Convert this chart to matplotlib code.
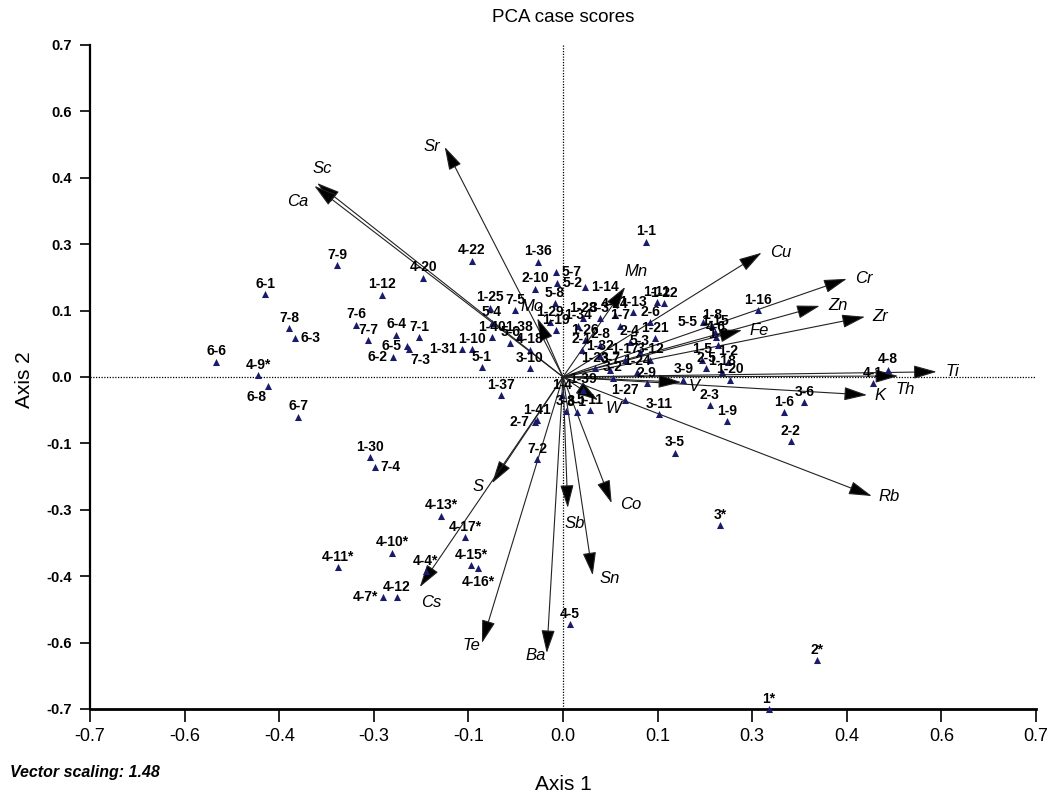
"""PCA case scores biplot (MVSP style) redrawn with matplotlib."""

import matplotlib
matplotlib.use("Agg")
import matplotlib.pyplot as plt
import numpy as np
from matplotlib import font_manager

# --- case scores (Axis 1, Axis 2) ---
case_labels = [
    "1-1", "1-36", "5-7", "5-2", "2-10", "1-14", "4-22", "4-20", "7-9", "6-1",
    "1-12", "7-8", "6-3", "7-6", "7-7", "6-4", "7-1", "6-5", "7-3", "6-2",
    "1-31", "1-10", "6-6", "4-9*", "6-8", "6-7", "1-30", "7-4", "7-2", "4-13*",
    "4-17*", "4-10*", "4-11*", "4-4*", "4-15*", "4-16*", "4-7*", "4-12", "4-5", "3-11",
    "1-9", "1-6", "3-6", "2-2", "3-5", "3*", "2*", "1*", "2-3", "1-16",
    "4-8", "4-1", "5-5", "1-8", "1-15", "4-6", "1-3", "1-5", "2-5", "1-2",
    "1-18", "1-20", "3-9", "1-27", "1-25", "7-5", "5-4", "1-40", "1-38", "5-6",
    "5-8", "1-29", "4-18", "3-10", "5-1", "1-37", "1-4", "1-39", "1-41", "2-7",
    "3-8", "3-1", "5-11", "1-28", "3-3", "4-24", "1-13", "1-11", "1-22", "1-34",
    "1-7", "2-6", "1-19", "1-26", "2-8", "1-21", "2-1", "1-32", "2-4", "5-3",
    "1-17", "3-12", "1-23", "3-7", "3-2", "1-24", "2-9",
]
case_x = [
    0.123, -0.037, -0.010, -0.009, -0.041, 0.033, -0.135, -0.207, -0.334, -0.441,
    -0.268, -0.405, -0.396, -0.306, -0.288, -0.247, -0.213, -0.231, -0.228, -0.251,
    -0.149, -0.135, -0.513, -0.451, -0.436, -0.392, -0.286, -0.278, -0.038, -0.180,
    -0.145, -0.253, -0.333, -0.203, -0.136, -0.126, -0.266, -0.246, 0.010, 0.142,
    0.243, 0.327, 0.357, 0.337, 0.166, 0.232, 0.376, 0.305, 0.217, 0.288,
    0.481, 0.459, 0.207, 0.220, 0.225, 0.226, 0.229, 0.206, 0.212, 0.244,
    0.235, 0.247, 0.178, 0.092, -0.108, -0.071, -0.105, -0.105, -0.065, -0.078,
    -0.012, -0.019, -0.049, -0.049, -0.120, -0.092, -0.001, 0.030, -0.038, -0.041,
    0.004, 0.021, 0.040, 0.030, 0.055, 0.077, 0.104, 0.139, 0.149, 0.022,
    0.084, 0.129, -0.010, 0.033, 0.055, 0.136, 0.028, 0.055, 0.099, 0.114,
    0.092, 0.129, 0.047, 0.070, 0.074, 0.109, 0.124,
]
case_y = [
    0.285, 0.243, 0.222, 0.198, 0.186, 0.190, 0.245, 0.209, 0.236, 0.175,
    0.173, 0.103, 0.082, 0.110, 0.078, 0.089, 0.084, 0.065, 0.059, 0.042,
    0.059, 0.059, 0.032, 0.004, -0.019, -0.084, -0.169, -0.190, -0.173, -0.293,
    -0.338, -0.371, -0.401, -0.409, -0.397, -0.403, -0.464, -0.464, -0.521, -0.078,
    -0.093, -0.074, -0.053, -0.135, -0.160, -0.312, -0.597, -0.700, -0.059, 0.141,
    0.015, -0.013, 0.116, 0.108, 0.095, 0.084, 0.068, 0.036, 0.019, 0.032,
    0.011, -0.006, -0.006, -0.049, 0.146, 0.141, 0.114, 0.084, 0.084, 0.072,
    0.156, 0.116, 0.057, 0.019, 0.021, -0.038, -0.038, -0.027, -0.091, -0.095,
    -0.072, -0.074, -0.070, 0.124, 0.124, 0.131, 0.137, 0.158, 0.156, 0.108,
    0.108, 0.116, 0.099, 0.078, 0.068, 0.082, 0.057, 0.044, 0.074, 0.053,
    0.036, 0.036, 0.019, 0.015, -0.002, 0.011, -0.013,
]

# --- variable vectors (scaled loadings) ---
var_names = ["Sc", "Ca", "Sr", "Cu", "Cr", "Zn", "Zr", "Fe", "Mn", "Mo", "Ti", "Th",
             "K", "Rb", "V", "W", "Co", "Sn", "Sb", "Ba", "Te", "S", "Cs"]
var_x = [-0.364, -0.368, -0.175, 0.294, 0.420, 0.380, 0.447, 0.265, 0.092, -0.038,
         0.553, 0.496, 0.450, 0.457, 0.175, 0.052, 0.072, 0.044, 0.007, -0.024,
         -0.120, -0.105, -0.212]
var_y = [0.409, 0.403, 0.485, 0.262, 0.207, 0.150, 0.127, 0.099, 0.190, 0.124,
         0.011, 0.002, -0.038, -0.251, -0.011, -0.049, -0.266, -0.418, -0.276, -0.582,
         -0.561, -0.224, -0.443]

tick_values = np.linspace(-0.7, 0.7, 11)

# label placement: (dx, dy) in points, ha, va
PLACE = {
    "a": ((0, 2.5), "center", "bottom"),
    "r": ((4, 0), "left", "center"),
    "l": ((-4, 0), "right", "center"),
    "b": ((0, -5), "center", "top"),
    "bl": ((-1, -3), "right", "top"),
    "br": ((1, -3), "left", "top"),
}
case_place = {
    "6-3": "r", "6-2": "l", "7-3": "br", "6-5": "l", "1-31": "l", "6-8": "bl",
    "7-4": "r", "4-7*": "l", "4-16*": "b", "5-5": "l", "2-7": "l", "1-14": "r",
    "5-7": "r", "5-2": "r",
}
var_place = {
    "Sc": ((4, 5), "center", "bottom"), "Ca": ((-12, -6), "center", "top"),
    "Sr": ((-3, 0), "right", "center"), "Cu": ((6, 0), "left", "center"),
    "Cr": ((6, 0), "left", "center"), "Zn": ((6, 0), "left", "center"),
    "Zr": ((5, 0), "left", "center"), "Fe": ((5, 0), "left", "center"),
    "Mn": ((8, 6), "center", "bottom"), "Mo": ((-4, 3), "center", "bottom"),
    "Ti": ((6, 0), "left", "center"), "Th": ((5, -4), "center", "top"),
    "K": ((5, 0), "left", "center"), "Rb": ((5, 0), "left", "center"),
    "V": ((5, -3), "left", "center"), "W": ((5, -6), "left", "center"),
    "Co": ((6, -1), "left", "center"), "Sn": ((5, -2), "left", "center"),
    "Sb": ((5, -6), "center", "top"), "Ba": ((-1, -2), "right", "center"),
    "Te": ((-1, -2), "right", "center"), "S": ((-6, -2), "right", "center"),
    "Cs": ((8, -6), "center", "top"),
}

names = {f.name for f in font_manager.fontManager.ttflist}
SANS = "Liberation Sans" if "Liberation Sans" in names else "DejaVu Sans"
NARROW = "Liberation Sans Narrow" if "Liberation Sans Narrow" in names else SANS
plt.rcParams["font.family"] = [SANS, "DejaVu Sans"]

fig = plt.figure(figsize=(10.54, 8.0), dpi=100)
ax = fig.add_axes([90 / 1054, 1 - 709 / 800, 946 / 1054, 664 / 800])
ax.set_xlim(-0.7, 0.7)
ax.set_ylim(-0.7, 0.7)

# dotted zero lines
ax.axhline(0, color="black", lw=0.9, ls=(0, (1, 1.2)), zorder=1)
ax.axvline(0, color="black", lw=0.9, ls=(0, (1, 1.2)), zorder=1)

# vectors
for name, vx, vy in zip(var_names, var_x, var_y):
    ax.annotate(
        "", xy=(vx, vy), xytext=(0, 0),
        arrowprops=dict(arrowstyle="-|>,head_length=1.2,head_width=0.35",
                        mutation_scale=12, lw=0.8, color="#222222",
                        fc="black", shrinkA=0, shrinkB=0),
        zorder=3,
    )
    off, ha, va = var_place[name]
    ax.annotate(name, (vx, vy), xytext=off, textcoords="offset points",
                ha=ha, va=va, fontsize=12, style="italic", zorder=5)

# case points
ax.scatter(case_x, case_y, marker="^", s=26, color="#1b1b6b", linewidths=0,
           zorder=4, clip_on=False)
for lab, cx, cy in zip(case_labels, case_x, case_y):
    off, ha, va = PLACE[case_place.get(lab, "a")]
    ax.annotate(lab, (cx, cy), xytext=off, textcoords="offset points",
                ha=ha, va=va, fontsize=10, fontweight="bold", zorder=6,
                annotation_clip=False)

# axes styling
for side in ("top", "right"):
    ax.spines[side].set_visible(False)
ax.spines["left"].set_linewidth(1.6)
ax.spines["bottom"].set_linewidth(2.0)

labels = [f"{round(t, 6) + 0.0:.1f}" for t in tick_values]
ax.set_xticks(tick_values)
ax.set_xticklabels(labels, fontsize=13, family=NARROW)
ax.set_yticks(tick_values)
ax.set_yticklabels(labels, fontsize=10.5, fontweight="bold")
ax.tick_params(axis="x", direction="out", length=9, width=1.2, pad=5)
ax.tick_params(axis="y", direction="out", length=7, width=1.2, pad=6)

fig.text(563 / 1054, 1 - 18 / 800, "PCA case scores", ha="center", va="center",
         fontsize=13.5)
fig.text(563 / 1054, 1 - 785 / 800, "Axis 1", ha="center", va="center",
         fontsize=15, family=NARROW)
fig.text(25 / 1054, 1 - 380 / 800, "Axis 2", ha="center", va="center",
         fontsize=15, rotation=90, family=NARROW)
fig.text(10 / 1054, 1 - 773 / 800, "Vector scaling: 1.48", ha="left", va="center",
         fontsize=11.5, style="italic", fontweight="bold", family=NARROW)

fig.savefig("out.png", dpi=100)
